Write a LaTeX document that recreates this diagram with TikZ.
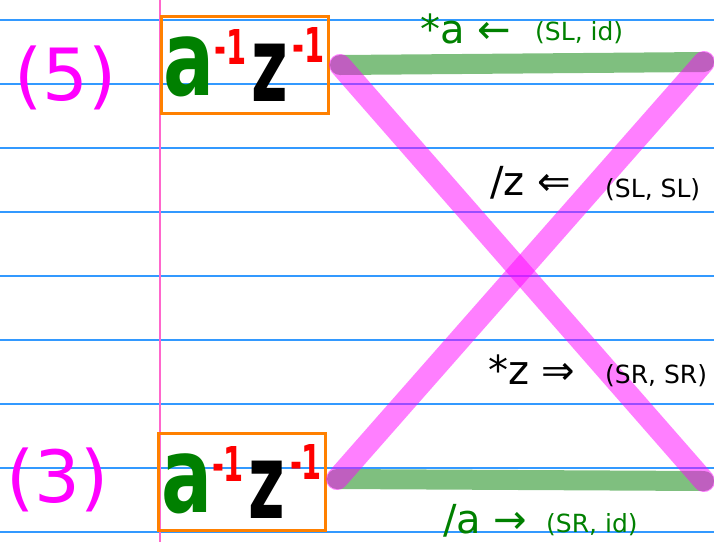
\documentclass[tikz,border=0pt]{standalone}
\usepackage{fontspec}
\setmainfont{DejaVu Sans}
\usetikzlibrary{positioning}
\definecolor{ruleblue}{HTML}{3399FF}
\definecolor{marginpink}{HTML}{FF66CC}
\definecolor{boxorange}{HTML}{FF8000}
\definecolor{inkgreen}{HTML}{008000}
\definecolor{inkred}{HTML}{FF0000}
\definecolor{inkmagenta}{HTML}{FF00FF}
\newcommand{\fsz}[1]{\fontsize{#1}{#1}\selectfont}

\begin{document}
\begin{tikzpicture}[
    x=1pt, y=-1pt,
    rule/.style={ruleblue, line width=1.5pt},
    wordbox/.style={draw=boxorange, line width=3pt, minimum width=167pt,
                    minimum height=97pt, inner sep=0pt},
    hand/.style={inner sep=0pt, font=\fsz{105}\bfseries},
    expo/.style={inner sep=0pt, inkred, font=\fsz{48}\bfseries},
    tape/.style={line width=20pt, line cap=round, inkgreen, opacity=0.5},
    cross/.style={line width=22pt, line cap=round, inkmagenta, opacity=0.5},
    lbl/.style={anchor=base west, inner sep=0pt, font=\fsz{40}},
    pair/.style={anchor=base west, inner sep=0pt, font=\fsz{25}},
    level/.style={anchor=base west, inner sep=0pt, inkmagenta, font=\fsz{72}}
  ]
  \useasboundingbox (0,0) rectangle (714,542);

  % ruled paper
  \foreach \y in {20,84,...,532} {
    \draw[rule] (0,\y) -- (714,\y);
  }
  \draw[marginpink, line width=1.5pt] (160,0) -- (160,542);

  % the two words
  \node[wordbox] (box5) at (244.5,64.5) {};
  \node[wordbox] (box3) at (242,481.5) {};
  \foreach \b in {box5, box3} {
    \node[hand, inkgreen] (\b-a) at ([xshift=-55pt, yshift=-2pt]\b.center)
      {\scalebox{0.72}[1]{a}};
    \node[expo] (\b-ae) at ([xshift=-14pt, yshift=18pt]\b.center)
      {\scalebox{0.6}[1]{-1}};
    \node[hand] (\b-z) at ([xshift=25pt, yshift=-8pt]\b.center)
      {\scalebox{0.6}[1]{z}};
    \node[expo] (\b-ze) at ([xshift=64pt, yshift=20pt]\b.center)
      {\scalebox{0.6}[1]{-1}};
  }

  % strokes
  \coordinate (TL) at (340,65);
  \coordinate (TR) at (704,62);
  \coordinate (BL) at (337,479);
  \coordinate (BR) at (704,481);
  \draw[tape] (TL) -- (TR);
  \draw[tape] (BL) -- (BR);
  \draw[cross] (TL) -- (BR);
  \draw[cross] (BL) -- (TR);

  % moves
  \node[lbl, inkgreen] (mvA) at (420,43) {*a ←};
  \node[pair, inkgreen] (stA) at (535,40) {(SL, id)};
  \node[lbl] (mvZ) at (490,195) {/z ⇐};
  \node[pair] (stZ) at (605,197) {(SL, SL)};
  \node[lbl] (mvZs) at (488,384) {*z ⇒};
  \node[pair] (stZs) at (605,383) {(SR, SR)};
  \node[lbl, inkgreen] (mvAs) at (443,533) {/a →};
  \node[pair, inkgreen] (stAs) at (546,532) {(SR, id)};

  % levels
  \node[level] (lv5) at (14,100) {(5)};
  \node[level] (lv3) at (6,502) {(3)};
\end{tikzpicture}
\end{document}
